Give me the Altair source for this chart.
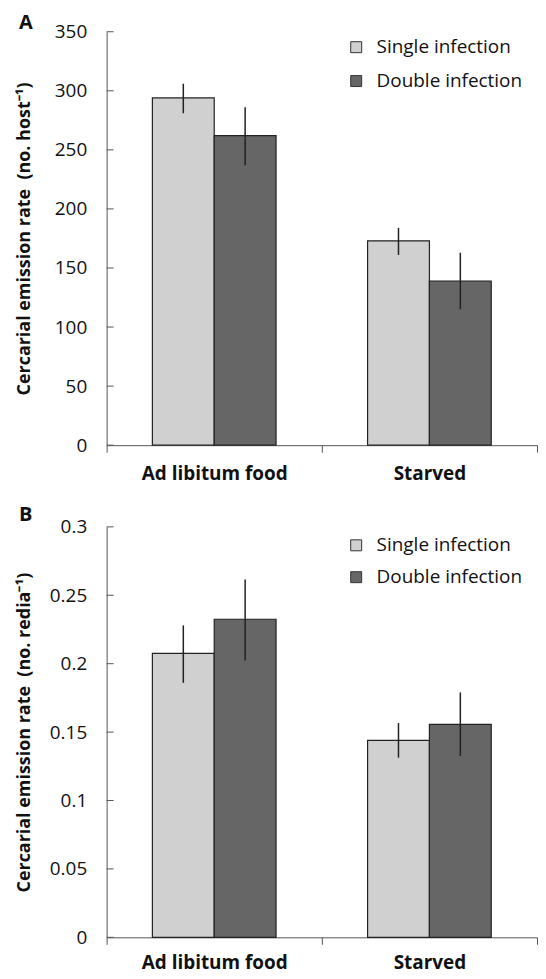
import altair as alt
import pandas as pd

conditions = ["Ad libitum food", "Starved"]
infections = ["Single infection", "Double infection"]

# order: (Ad lib, single), (Ad lib, double), (Starved, single), (Starved, double)
a_mean = [294, 262, 173, 139]
a_lo = [281, 237, 161, 115]
a_hi = [306, 286, 184, 163]

b_mean = [0.2075, 0.2325, 0.144, 0.1556]
b_lo = [0.186, 0.2024, 0.1313, 0.1325]
b_hi = [0.228, 0.2615, 0.1566, 0.179]

a_ticks = [0, 50, 100, 150, 200, 250, 300, 350]
b_ticks = [0, 0.05, 0.1, 0.15, 0.2, 0.25, 0.3]

colors = ["#d0d0d0", "#666666"]
FONT = "Open Sans"
W = 432


def panel(mean, lo, hi, ticks, ymax, fmt, ytitle, letter, letter_y, legend_y,
          row_pad, H, xlab_pad):
    rows = []
    i = 0
    for c in conditions:
        for s in infections:
            rows.append({"cond": c, "inf": s, "mean": mean[i], "lo": lo[i], "hi": hi[i]})
            i += 1
    df = pd.DataFrame(rows)

    x = alt.X("cond:N", sort=conditions, title=None,
              scale=alt.Scale(paddingInner=0, paddingOuter=0),
              axis=alt.Axis(labelAngle=0, labelFont=FONT, labelFontSize=19,
                            labelFontWeight="bold", labelColor="#111",
                            tickBand="extent", tickSize=7, tickColor="#555",
                            domainColor="#555", labelPadding=xlab_pad))
    xo = alt.XOffset("inf:N", sort=infections,
                     scale=alt.Scale(paddingInner=0, paddingOuter=0.74))
    yscale = alt.Scale(domain=[0, ymax], nice=False)

    bars = alt.Chart(df).mark_bar(stroke="#222", strokeWidth=1.2).encode(
        x=x, xOffset=xo,
        y=alt.Y("mean:Q", scale=yscale, title=ytitle,
                axis=alt.Axis(values=ticks, format=fmt, ticks=False,
                              labelFont=FONT, labelFontSize=19, labelColor="#111",
                              labelPadding=20, domainColor="#555",
                              titleFont=FONT, titleFontSize=18, titleFontWeight="bold",
                              titleColor="#111", titleX=-73, titleY=H / 2,
                              grid=False)),
        color=alt.Color("inf:N", sort=infections,
                        scale=alt.Scale(domain=infections, range=colors),
                        legend=alt.Legend(title=None, orient="none", legendX=241,
                                          legendY=legend_y, symbolType="square",
                                          symbolSize=121, symbolStrokeColor="#333",
                                          symbolStrokeWidth=1, labelFont=FONT,
                                          labelFontSize=19, labelColor="#111",
                                          labelOffset=11, rowPadding=row_pad,
                                          padding=0)),
    )
    errs = alt.Chart(df).mark_rule(color="#222", strokeWidth=1.5).encode(
        x=x, xOffset=xo, y=alt.Y("lo:Q", scale=yscale), y2="hi:Q")
    tdf = pd.DataFrame({"t": ticks})
    tick_marks = alt.Chart(tdf).mark_rule(color="#555", strokeWidth=1).encode(
        y=alt.Y("t:Q", scale=yscale), x=alt.value(0), x2=alt.value(7))
    ldf = pd.DataFrame({"p": [letter]})
    lab = alt.Chart(ldf).mark_text(font=FONT, fontSize=20, fontWeight="bold",
                                   align="left", baseline="alphabetic",
                                   color="#111").encode(
        text="p:N", x=alt.value(-88), y=alt.value(letter_y))
    return alt.layer(bars, errs, tick_marks, lab).properties(width=W, height=H)


top = panel(a_mean, a_lo, a_hi, a_ticks, 350, "d",
            "Cercarial emission rate \u00a0(no. host\u207b\u00b9)", "A", -3, 6, 14, 415, 12)
bottom = panel(b_mean, b_lo, b_hi, b_ticks, 0.3, "~g",
               "Cercarial emission rate \u00a0(no. redia\u207b\u00b9)", "B", -6, 9, 12, 412, 9)

chart = alt.vconcat(top, bottom, spacing=22).properties(
    padding={"left": 7, "top": 3, "right": 0, "bottom": 4}
).configure_view(stroke=None).resolve_scale(color="independent")

chart.save("out.html", embed_options={"renderer": "svg", "actions": False})
